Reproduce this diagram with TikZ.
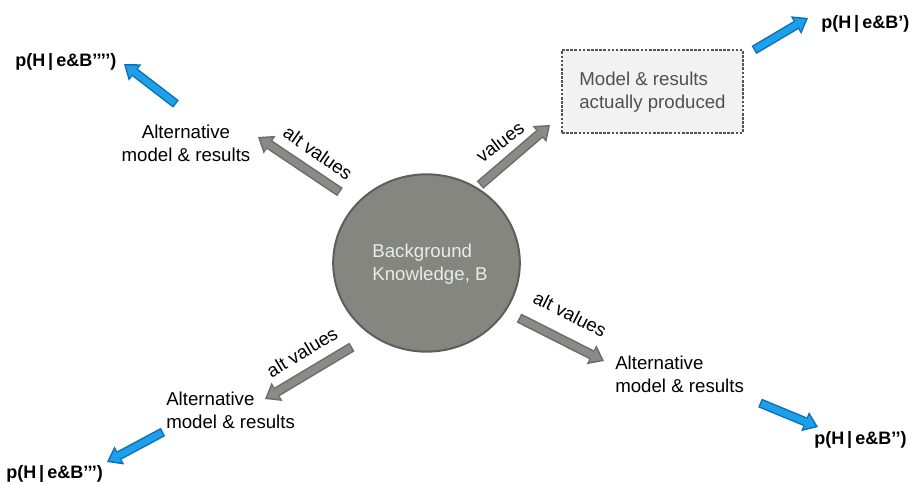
\documentclass[tikz,border=0pt]{standalone}
\usepackage{fontspec}
\setmainfont{Liberation Sans}
\usetikzlibrary{arrows.meta,shapes.geometric}

\tikzset{
  lbl/.style={inner sep=0pt, font=\fontsize{14}{17.3}\selectfont},
  prob/.style={inner sep=0pt, anchor=west, font=\fontsize{13.5}{16}\selectfont\bfseries},
  grayarrow/.style={line width=7.5pt, color={rgb, 255:red, 108; green, 108; blue, 104 },
    -{Triangle[length=10.5pt,width=16pt,line width=0pt]},
    postaction={draw, line width=5.2pt, color={rgb, 255:red, 138; green, 138; blue, 134 },
      shorten <=1.1pt, shorten >=1.9pt, -{Triangle[length=7.6pt,width=11.6pt,line width=0pt]}}},
  bluearrow/.style={line width=7pt, color={rgb, 255:red, 12; green, 110; blue, 190 },
    -{Triangle[length=10.5pt,width=15.5pt,line width=0pt]},
    postaction={draw, line width=4.8pt, color={rgb, 255:red, 30; green, 160; blue, 232 },
      shorten <=1.1pt, shorten >=1.9pt, -{Triangle[length=7.6pt,width=11.2pt,line width=0pt]}}},
}

\begin{document}
\begin{tikzpicture}[x=0.75pt,y=0.75pt,yscale=-1,xscale=1]
\useasboundingbox (0,0) rectangle (915,484);

%Shape: Ellipse
\node [ellipse, draw={rgb, 255:red, 94; green, 94; blue, 90 }, line width=1.5pt, fill={rgb, 255:red, 134; green, 134; blue, 129 }, minimum width=140pt, minimum height=133pt, inner sep=0pt] (bk) at (426.5,263) {};
% Text Node
\node [lbl, align=left, text={rgb, 255:red, 232; green, 236; blue, 232 }] (bktext) at (430,264) {Background\\Knowledge, B};

%Shape: Rectangle
\node [draw={rgb, 255:red, 84; green, 84; blue, 84 }, line width=2.1pt, dash pattern=on 2pt off 1.1pt, fill={rgb, 255:red, 242; green, 242; blue, 242 }, minimum width=135.75pt, minimum height=62.25pt, inner sep=0pt] (model) at (652.5,91.5) {};
% Text Node
\node [lbl, align=left, text={rgb, 255:red, 80; green, 80; blue, 80 }] (modeltext) at (652.5,92) {Model \& results\\actually produced};

% Text Node
\node [lbl, align=center] (altTL) at (186,143) {Alternative\\model \& results};
% Text Node
\node [lbl, align=left, anchor=west] (altBR) at (615,374) {Alternative\\model \& results};
% Text Node
\node [lbl, align=left, anchor=west] (altBL) at (166,410) {Alternative\\model \& results};

% Text Node
\node [prob] (pTL) at (15,62) {p(H\,|\,e\&B’’’’)};
% Text Node
\node [prob] (pTR) at (821,24) {p(H\,|\,e\&B’)};
% Text Node
\node [prob] (pBR) at (814,440) {p(H\,|\,e\&B’’)};
% Text Node
\node [prob] (pBL) at (6,474) {p(H\,|\,e\&B’’’)};

%Arrow ends
\coordinate (gTLa) at (340,192);
\coordinate (gTLb) at (258,137);
\coordinate (gTRa) at (480,185);
\coordinate (gTRb) at (550,125);
\coordinate (gBRa) at (519,318);
\coordinate (gBRb) at (604,361);
\coordinate (gBLa) at (352,347);
\coordinate (gBLb) at (265,399);
\coordinate (bTLa) at (176,104);
\coordinate (bTLb) at (124,64);
\coordinate (bTRa) at (754,50);
\coordinate (bTRb) at (808,18);
\coordinate (bBRa) at (760,403);
\coordinate (bBRb) at (818,427);
\coordinate (bBLa) at (163,432);
\coordinate (bBLb) at (107,462);

%Block Arrows
\draw [grayarrow] (gTLa) -- (gTLb);
\draw [grayarrow] (gTRa) -- (gTRb);
\draw [grayarrow] (gBRa) -- (gBRb);
\draw [grayarrow] (gBLa) -- (gBLb);
\draw [bluearrow] (bTLa) -- (bTLb);
\draw [bluearrow] (bTRa) -- (bTRb);
\draw [bluearrow] (bBRa) -- (bBRb);
\draw [bluearrow] (bBLa) -- (bBLb);

% Text Node
\node [lbl, rotate=-35] (valTL) at (318,153) {alt values};
% Text Node
\node [lbl, rotate=37] (valTR) at (500,142) {values};
% Text Node
\node [lbl, rotate=-27] (valBR) at (570,314) {alt values};
% Text Node
\node [lbl, rotate=31] (valBL) at (302,352) {alt values};
\end{tikzpicture}
\end{document}
